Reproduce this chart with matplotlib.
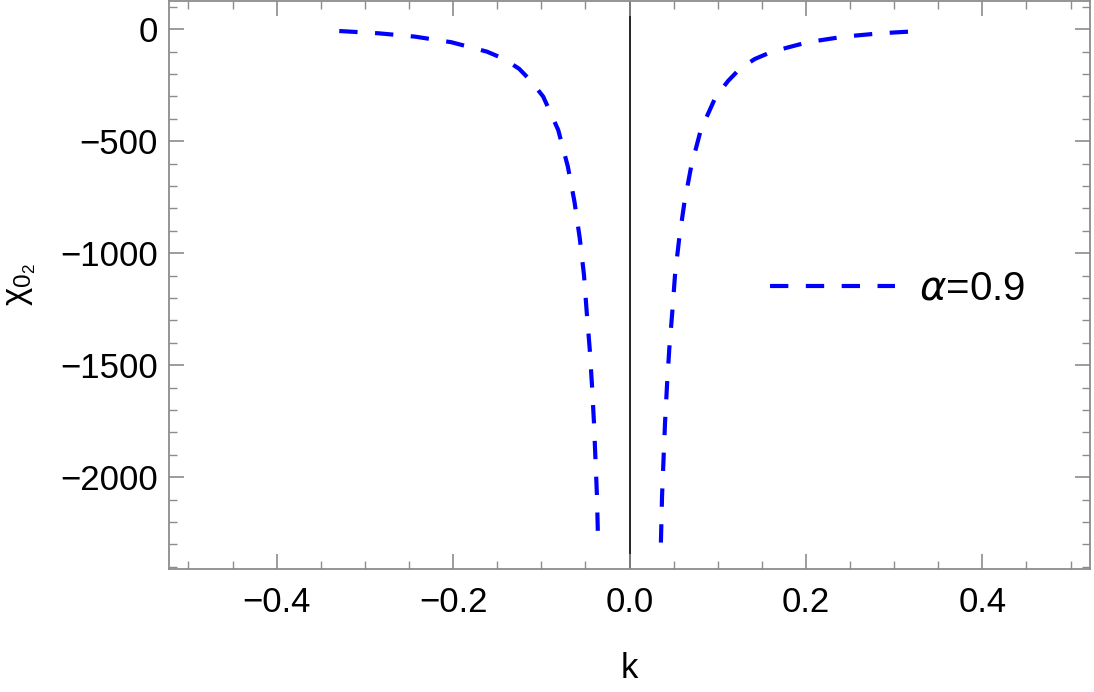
import matplotlib.pyplot as plt
from matplotlib.ticker import MultipleLocator

plt.rcParams['font.family'] = ['Liberation Sans', 'DejaVu Sans']

# values (right branch, left branch is its mirror)
k_right = [0.0356, 0.0369, 0.0386, 0.0403, 0.0425, 0.0451, 0.0485, 0.0516,
           0.0563, 0.0623, 0.0699, 0.0808, 0.0978, 0.112, 0.125, 0.142,
           0.1617, 0.202, 0.2433, 0.285, 0.329]
chi_right = [-2292, -2083, -1918, -1755, -1591, -1427, -1263, -1097,
             -936, -772, -613, -450, -301, -230, -177, -133,
             -100, -58, -33, -18, -8]
# left branch, ordered from k = -0.33 towards 0
k_left = [-k for k in reversed(k_right)]
chi_left = list(reversed(chi_right))
label = r'$\alpha$=0.9'

fig = plt.figure(figsize=(10.94, 6.92), dpi=100)
ax = fig.add_axes([169/1094, 1 - 569/692, 921/1094, 568/692])

style = dict(color='blue', lw=3, dash_capstyle='butt')
ax.plot(k_left, chi_left, linestyle=(0, (4.4, 4.2)), **style)
ax.plot(k_right, chi_right, linestyle=(0, (4.4, 4.2)), label=label, **style)
ax.axvline(0, ymin=0, ymax=1, color='black', lw=1.2, zorder=1)

ax.set_xlim(-0.522, 0.522)
ax.set_ylim(-2410, 126)

ax.xaxis.set_major_locator(MultipleLocator(0.2))
ax.xaxis.set_minor_locator(MultipleLocator(0.05))
ax.yaxis.set_major_locator(MultipleLocator(500))
ax.yaxis.set_minor_locator(MultipleLocator(100))

frame = '#8c8c8c'
for s in ax.spines.values():
    s.set_color(frame)
    s.set_linewidth(1.3)
ax.tick_params(which='both', direction='in', top=True, right=True,
               color=frame, labelsize=25, labelcolor='black')
ax.tick_params(axis='x', which='both', pad=12)
ax.tick_params(axis='y', which='both', pad=8)
ax.tick_params(which='major', length=11, width=1.2)
ax.tick_params(which='minor', length=6, width=1.0)

ax.set_xlabel('k', fontsize=25)
ax.xaxis.set_label_coords(0.5, -0.147)
ax.set_ylabel(r'$\mathregular{\chi_{0_2}}$', fontsize=25)
ax.yaxis.set_label_coords(-0.142, 0.5)

ax.legend(loc='center left', bbox_to_anchor=(0.6526, 0.493), frameon=False,
          fontsize=29, handlelength=3.1, handletextpad=0.6, borderpad=0,
          borderaxespad=0)

fig.savefig('out.png', dpi=100)
